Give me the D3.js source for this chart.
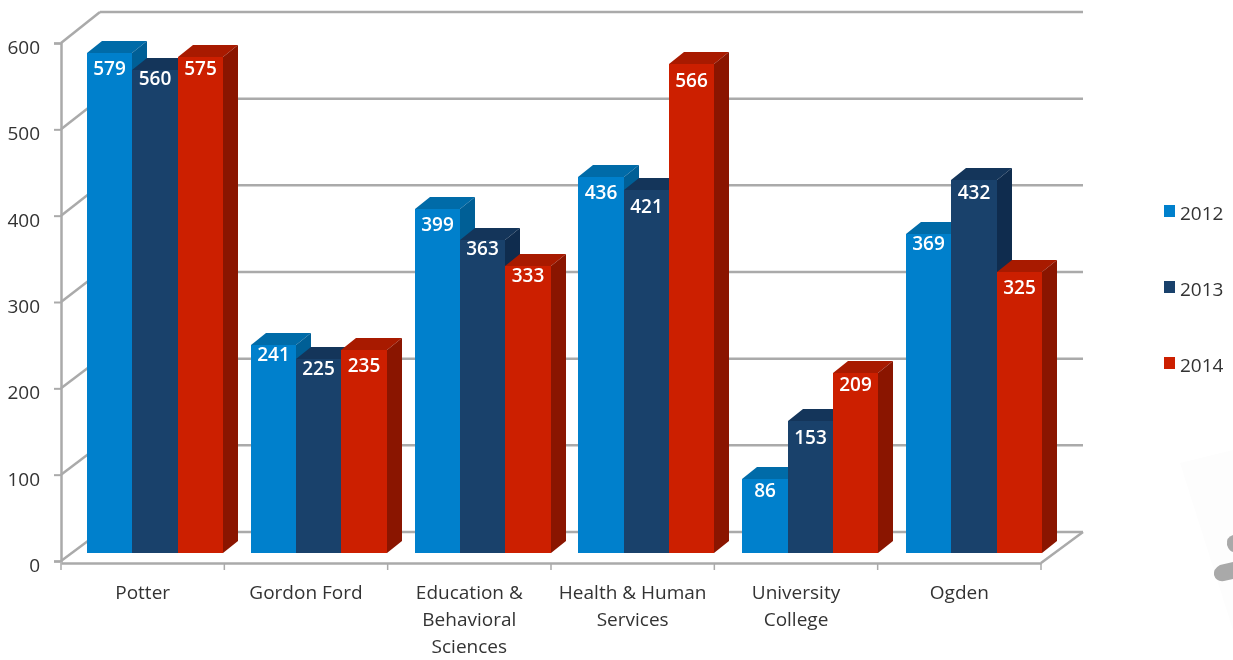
<!DOCTYPE html>
<html>
<head>
<meta charset="utf-8">
<script src="https://cdn.jsdelivr.net/npm/d3@7"></script>
<style>
  html, body { margin: 0; background: #fff; }
  svg { filter: blur(0.5px); } /* the reference is a soft, scaled up image */
  text { font-family: "Open Sans", "Noto Sans", sans-serif; }
  .tick text, .legend text, .cat { fill: #333; font-size: 19px; }
  .val { fill: #fff; font-size: 19px; font-weight: 600; text-anchor: middle; }
</style>
</head>
<body>
<div id="chart"></div>
<script>
const categories = [["Potter"], ["Gordon Ford"], ["Education &", "Behavioral", "Sciences"], ["Health & Human", "Services"], ["University", "College"], ["Ogden"]]
const catNames = categories.map(c => c.join(" "))
const years = ["2012", "2013", "2014"]
const values2012 = [579, 241, 399, 436, 86, 369]
const values2013 = [560, 225, 363, 421, 153, 432]
const values2014 = [575, 235, 333, 566, 209, 325]
const yTicks = [0, 100, 200, 300, 400, 500, 600]
const frontColors = ["#0080cc", "#19416b", "#cc1f00"]
const topColors = ["#006ba8", "#14355a", "#a81a00"]
const sideColors = ["#005f96", "#0f2c4e", "#8a1500"]

const series = [values2012, values2013, values2014]
const depthX = 15, depthY = -12

// the labels do not sit at one fixed distance from the bar top in the reference
const labelNudge = [
  [0, -6, 0, 0, -4, -6],
  [-7, -6, -7, 1, 1, -3],
  [-4, 0, -6, 1, -4, 0]
]

const svg = d3.select("#chart").append("svg").attr("width", 1233).attr("height", 660)

// faint shape in the lower right corner
svg.append("path").attr("d", "M1180,463 L1233,450 L1233,630 Z").attr("fill", "#fdfdfd")
svg.append("path").attr("d", "M1233,535 Q1226,537 1227,545 Q1229,551 1233,552 Z").attr("fill", "#a9a9a9")
svg.append("path").attr("d", "M1233,562 L1220,565 Q1213,569 1214,575 Q1216,582 1224,581 L1233,579 Z").attr("fill", "#a9a9a9")

const x = d3.scaleBand().domain(catNames).range([61, 1041])
const xBars = d3.scaleBand().domain(catNames).range([87, 1069.8])
const xSeries = d3.scaleBand().domain(years).range([0, 136])
const y = d3.scaleLinear().domain([0, 600]).range([561, 43])
const yBack = d3.scaleLinear().domain([0, 600]).range([532, 12])
const yBar = d3.scaleLinear().domain([0, 600]).range([553, 35])

// back wall and floor
const grid = svg.append("g").attr("stroke", "#aaa").attr("stroke-width", 2.5).attr("fill", "none")
grid.selectAll(".back").data(yTicks).enter().append("line")
  .attr("x1", 100).attr("x2", 1083)
  .attr("y1", d => yBack(d)).attr("y2", d => yBack(d))
grid.selectAll(".wall").data(yTicks).enter().append("line")
  .attr("x1", 61).attr("x2", 100)
  .attr("y1", d => y(d)).attr("y2", d => yBack(d))
grid.append("line").attr("x1", 1041).attr("y1", 563).attr("x2", 1083).attr("y2", 532)

// axes
const yAxis = d3.axisLeft(y).tickValues(yTicks).tickSize(7).tickPadding(14)
svg.append("g").attr("transform", "translate(61,0)").call(yAxis)
  .call(g => g.select(".domain").attr("stroke", "#aaa").attr("stroke-width", 2.5))
  .call(g => g.selectAll(".tick line").attr("stroke", "#aaa").attr("stroke-width", 2))
  .call(g => g.selectAll(".tick text").attr("dy", "0.55em").attr("y", 0))

const xAxis = d3.axisBottom(x).tickSize(0).tickFormat("")
svg.append("g").attr("transform", "translate(0,563)").call(xAxis)
  .call(g => g.select(".domain").attr("stroke", "#aaa").attr("stroke-width", 2.5))

svg.selectAll(".xtick").data(catNames.concat(["end"])).enter().append("line")
  .attr("x1", d => d === "end" ? 1041 : x(d)).attr("x2", d => d === "end" ? 1041 : x(d))
  .attr("y1", 563).attr("y2", 570)
  .attr("stroke", "#aaa").attr("stroke-width", 1.5)

// category labels
const cats = svg.selectAll(".cat").data(categories).enter().append("text")
  .attr("class", "cat")
  .attr("text-anchor", "middle")
  .attr("x", (d, i) => x(catNames[i]) + x.bandwidth() / 2)
  .attr("y", 599)
cats.selectAll("tspan").data(d => d).enter().append("tspan")
  .attr("x", function() { return this.parentNode.getAttribute("x") })
  .attr("dy", (d, i) => i ? 27 : 0)
  .text(d => d)

// bars, left to right so each one hides the side of the one before
catNames.forEach((cat, c) => {
  years.forEach((yr, s) => {
    const v = series[s][c]
    // whole pixels, otherwise light seams show between the faces
    const x0 = Math.round(xBars(cat) + xSeries(yr))
    const x1 = Math.round(xBars(cat) + xSeries(yr) + xSeries.bandwidth())
    const w = x1 - x0
    const top = Math.round(yBar(v)), base = yBar(0)
    const g = svg.append("g")
    g.append("path")
      .attr("d", `M${x0},${top} l${depthX},${depthY} h${w} l${-depthX},${-depthY} Z`)
      .attr("fill", topColors[s])
    g.append("path")
      .attr("d", `M${x1},${top} l${depthX},${depthY} V${base + depthY} l${-depthX},${-depthY} Z`)
      .attr("fill", sideColors[s])
    g.append("rect")
      .attr("x", x0).attr("y", top).attr("width", w).attr("height", base - top)
      .attr("fill", frontColors[s])
    g.append("text").attr("class", "val")
      .attr("x", x0 + w / 2).attr("y", top + 22 + labelNudge[s][c])
      .text(v)
  })
})

// legend
const legend = svg.append("g").attr("class", "legend")
const legendY = d3.scalePoint().domain(years).range([211, 363])
years.forEach((yr, s) => {
  legend.append("rect")
    .attr("x", 1164).attr("y", legendY(yr) - 6).attr("width", 11).attr("height", 12)
    .attr("fill", frontColors[s])
  legend.append("text")
    .attr("x", 1180).attr("y", legendY(yr) + 9)
    .text(yr)
})
</script>
</body>
</html>
